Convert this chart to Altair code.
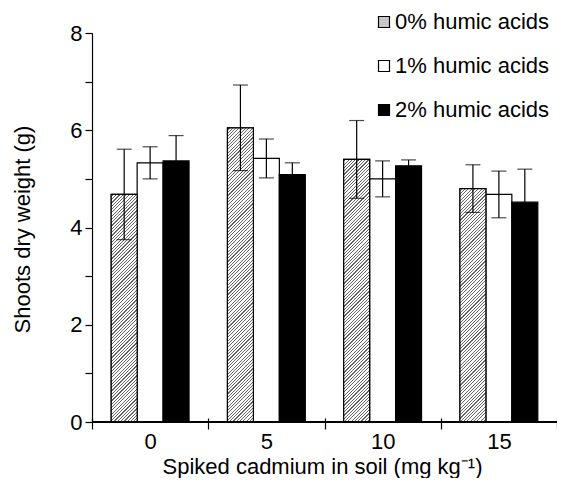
import altair as alt
import pandas as pd

groups = ["0", "5", "10", "15"]
series = ["0% humic acids", "1% humic acids", "2% humic acids"]
mean_0 = [4.68, 6.05, 5.40, 4.80]
mean_1 = [5.33, 5.42, 5.00, 4.68]
mean_2 = [5.37, 5.09, 5.27, 4.52]
err_0 = [0.93, 0.88, 0.80, 0.49]
err_1 = [0.33, 0.40, 0.37, 0.48]
err_2 = [0.52, 0.24, 0.12, 0.68]

means = [mean_0, mean_1, mean_2]
errs = [err_0, err_1, err_2]
rows = []
for si, s in enumerate(series):
    for gi, g in enumerate(groups):
        m = means[si][gi]
        e = errs[si][gi]
        rows.append({"group": g, "series": s, "mean": m, "lo": m - e, "hi": m + e})
df = pd.DataFrame(rows)

W, H = 465, 389
YMAX = 8
FONT = "Liberation Sans, Arial, sans-serif"
OUTER = 0.74
BAR_W = (W / len(groups)) / (len(series) + 2 * OUTER)

x_enc = alt.X(
    "group:N",
    sort=groups,
    scale=alt.Scale(domain=groups, paddingInner=0, paddingOuter=0),
    axis=alt.Axis(
        title="Spiked cadmium in soil (mg kg\u207b\u00b9)",
        offset=-4, domain=False, tickBand="extent", tickSize=11,
        tickColor="black", tickWidth=1.2, labelAngle=0,
        labelPadding=2, labelFontSize=22, labelColor="black", labelFont=FONT,
        titleFontSize=22, titleFont=FONT, titleColor="black", titleFontWeight="normal",
        titleX=230, titleY=55, titleBaseline="alphabetic", titleAlign="center",
    ),
)
xo_enc = alt.XOffset(
    "series:N", sort=series,
    scale=alt.Scale(domain=series, paddingInner=0, paddingOuter=OUTER),
)
y_scale = alt.Scale(domain=[0, YMAX], nice=False, zero=True)
y_enc = alt.Y(
    "mean:Q", scale=y_scale,
    axis=alt.Axis(
        title="Shoots dry weight (g)",
        values=list(range(0, YMAX + 1)),
        labelExpr="datum.value % 2 == 0 ? datum.label : ''",
        grid=False, domainColor="black", domainWidth=1.2,
        tickColor="black", tickWidth=1.2, tickSize=7,
        labelPadding=3, labelFontSize=22, labelColor="black", labelFont=FONT,
        titleFontSize=22, titleFont=FONT, titleColor="black", titleFontWeight="normal",
        titleX=-63, titleY=196, titleBaseline="alphabetic", titleAlign="center",
    ),
)

base = alt.Chart(df)

bars = base.mark_bar(stroke="black", strokeWidth=1.2).encode(
    x=x_enc, xOffset=xo_enc, y=y_enc,
    fill=alt.Fill(
        "series:N",
        scale=alt.Scale(domain=series, range=["#c8c8c8", "white", "black"]),
        legend=alt.Legend(
            title=None, orient="none", legendX=281, legendY=-22,
            symbolType="square", symbolSize=121, symbolStrokeColor="black",
            symbolStrokeWidth=1.2, labelFontSize=22, labelColor="black",
            labelFont=FONT, rowPadding=22, labelOffset=0, padding=0,
        ),
    ),
)


def hatch_gradient(h, w=BAR_W, period=3.3, dark=0.35, color="#666666"):
    total = w + h
    k = total / (w * w + h * h)
    stops = []
    pos = 0.0
    while pos < total:
        a = (pos + period * 0.5) / total
        b = (pos + period * (0.5 + dark)) / total
        if a >= 1:
            break
        b = min(b, 1.0)
        stops.append({"offset": a, "color": "white"})
        stops.append({"offset": a, "color": color})
        stops.append({"offset": b, "color": color})
        stops.append({"offset": b, "color": "white"})
        pos += period
    stops = [{"offset": 0.0, "color": "white"}] + stops + [{"offset": 1.0, "color": "white"}]
    return {"gradient": "linear", "x1": 0, "y1": 0, "x2": k * w, "y2": k * h, "stops": stops}


hatch_layers = []
for gi, g in enumerate(groups):
    h_px = mean_0[gi] / YMAX * H
    hatch_layers.append(
        base.transform_filter(
            (alt.datum.series == series[0]) & (alt.datum.group == g)
        ).mark_bar(stroke="black", strokeWidth=1.2, fill=hatch_gradient(h_px)).encode(
            x=x_enc, xOffset=xo_enc, y=y_enc
        )
    )

xline = base.mark_rule(color="black", strokeWidth=1.2).encode(y=alt.datum(0))

err_rule = base.mark_rule(color="black", strokeWidth=1.2).encode(
    x=x_enc, xOffset=xo_enc, y=alt.Y("lo:Q", scale=y_scale), y2="hi:Q"
)
cap_lo = base.mark_tick(color="black", thickness=1.2, size=15, orient="horizontal").encode(
    x=x_enc, xOffset=xo_enc, y=alt.Y("lo:Q", scale=y_scale)
)
cap_hi = base.mark_tick(color="black", thickness=1.2, size=15, orient="horizontal").encode(
    x=x_enc, xOffset=xo_enc, y=alt.Y("hi:Q", scale=y_scale)
)

chart = alt.layer(bars, *hatch_layers, xline, err_rule, cap_lo, cap_hi).properties(
    width=W, height=H,
    autosize=alt.AutoSizeParams(type="none"),
    padding={"left": 84, "top": 25, "right": 0, "bottom": 56},
    background="white",
).configure_view(stroke=None)

chart.save("out.html", embed_options={"renderer": "svg", "actions": False})
